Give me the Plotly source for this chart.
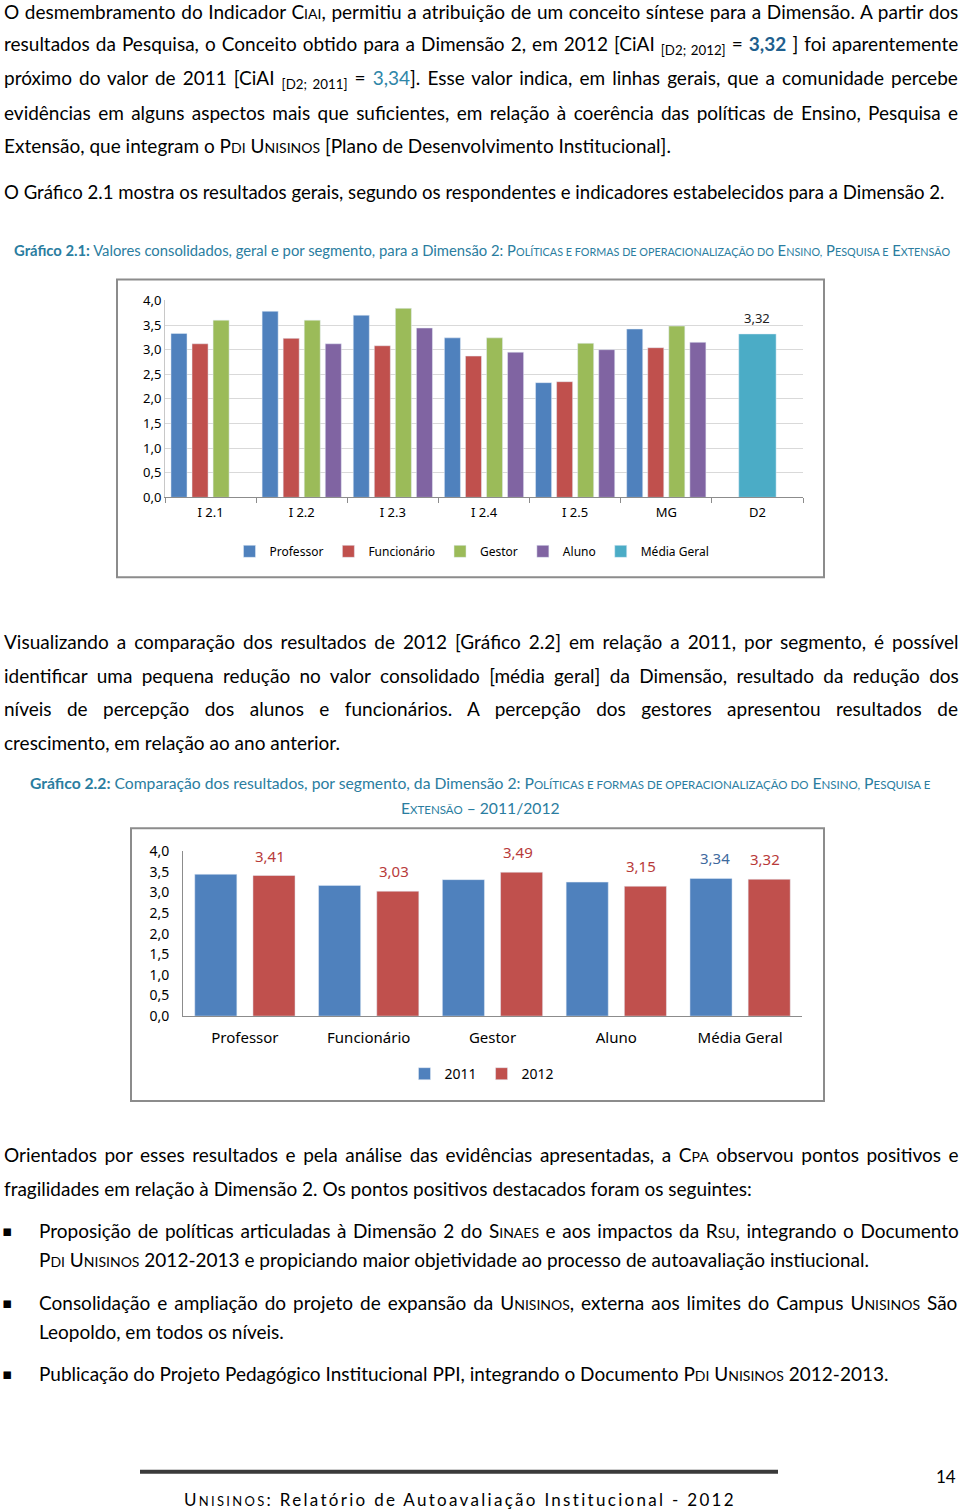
import plotly.graph_objects as go

W, H = 960, 1521
TOP = 8.5     # page offset compensation (px)
VSCALE = 0.988  # vertical compensation of the photographed page

# ---------------- data ----------------
indicadores = ["I 2.1", "I 2.2", "I 2.3", "I 2.4", "I 2.5", "MG", "D2"]
professor = [3.33, 3.78, 3.70, 3.24, 2.33, 3.42, None]
funcionario = [3.12, 3.23, 3.08, 2.87, 2.35, 3.04, None]
gestor = [3.60, 3.60, 3.84, 3.24, 3.13, 3.48, None]
aluno = [None, 3.12, 3.44, 2.95, 3.00, 3.15, None]
media_geral = [None, None, None, None, None, None, 3.32]

segmentos = ["Professor", "Funcionário", "Gestor", "Aluno", "Média Geral"]
ano_2011 = [3.44, 3.17, 3.31, 3.25, 3.34]
ano_2012 = [3.41, 3.03, 3.49, 3.15, 3.32]

y_ticks = [0, 0.5, 1.0, 1.5, 2.0, 2.5, 3.0, 3.5, 4.0]
y_ticktext = ["0,0", "0,5", "1,0", "1,5", "2,0", "2,5", "3,0", "3,5", "4,0"]

# ---------------- styles ----------------
BLUE, RED, GREEN, PURPLE, AQUA = "#4F81BD", "#C0504D", "#9BBB59", "#8064A2", "#4BACC6"
TEXT_FONT = "Lato, sans-serif"
CHART_FONT = "Noto Sans, DejaVu Sans, sans-serif"
TEAL = "#2A7DA0"


def px(x):
    return x / W


def py(y):
    return 1 - (y / VSCALE - TOP) / H


def sc(t, size):
    return f'<span style="font-size:{size}px">{t.upper()}</span>'


def fmt(v):
    return f"{v:.2f}".replace(".", ",")


fig = go.Figure()

# ---------------- chart 2.1 ----------------
c1_series = [("Professor", professor, BLUE), ("Funcionário", funcionario, RED),
             ("Gestor", gestor, GREEN), ("Aluno", aluno, PURPLE)]
step, bw = 0.231, 0.176
for i, (name, vals, col) in enumerate(c1_series):
    fig.add_trace(go.Bar(x=indicadores, y=vals, name=name, marker_color=col,
                         width=bw, offset=-2 * step + i * step + (step - bw) / 2,
                         xaxis="x", yaxis="y", legend="legend"))
fig.add_trace(go.Bar(x=indicadores, y=media_geral, name="Média Geral", marker_color=AQUA,
                     width=0.41, offset=-0.205, xaxis="x", yaxis="y", legend="legend"))

# ---------------- chart 2.2 ----------------
fig.add_trace(go.Bar(x=segmentos, y=ano_2011, name="2011", marker_color=BLUE,
                     xaxis="x2", yaxis="y2", legend="legend2", offset=-0.405, width=0.34))
fig.add_trace(go.Bar(x=segmentos, y=ano_2012, name="2012", marker_color=RED,
                     xaxis="x2", yaxis="y2", legend="legend2", offset=0.065, width=0.34))

annotations = []
# data label chart 2.1
for c, v in zip(indicadores, media_geral):
    if v is not None:
        annotations.append(dict(x=c, y=v, xref="x", yref="y", text=fmt(v), showarrow=False,
                                yshift=16, yanchor="middle",
                                font=dict(size=13, color="#222222", family=CHART_FONT)))
# data labels chart 2.2 (2012 all, 2011 only Média Geral)
for s, v in zip(segmentos, ano_2012):
    annotations.append(dict(x=s, y=v, xref="x2", yref="y2", text=fmt(v),
                            showarrow=False, xshift=25, yshift=20, yanchor="middle",
                            font=dict(size=15, color="#B83A3A", family=CHART_FONT)))
annotations.append(dict(x=segmentos[-1], y=ano_2011[-1], xref="x2", yref="y2",
                        text=fmt(ano_2011[-1]), showarrow=False,
                        xshift=-25, yshift=20, yanchor="middle",
                        font=dict(size=15, color="#3F6A9E", family=CHART_FONT)))

# ---------------- page text ----------------
FS = 19
SCS = 14
# (y, x, word spacing px for justified lines, font size, text)
lines = [
    (10, 2, 0.8, FS, f"O desmembramento do Indicador C{sc('iai', SCS)}, permitiu a atribuição de um conceito síntese para a Dimensão. A partir dos"),
    (43, 2, 1.2, FS, f"resultados da Pesquisa, o Conceito obtido para a Dimensão 2, em 2012 [CiAI <sub>[D2; 2012]</sub> = <b><span style='color:#1F5F8E'>3,32</span></b> ] foi aparentemente"),
    (77, 2, 2.2, FS, f"próximo do valor de 2011 [CiAI <sub>[D2; 2011]</sub> = <span style='color:#2F86A8'>3,34</span>]. Esse valor indica, em linhas gerais, que a comunidade percebe"),
    (111, 2, 2.5, FS, "evidências em alguns aspectos mais que suficientes, em relação à coerência das políticas de Ensino, Pesquisa e"),
    (144, 2, 0, FS, f"Extensão, que integram o P{sc('di', SCS)} U{sc('nisinos', SCS)} [Plano de Desenvolvimento Institucional]."),
    (190, 2, 0, 18.6, "O Gráfico 2.1 mostra os resultados gerais, segundo os respondentes e indicadores estabelecidos para a Dimensão 2."),
    (640, 2, 3.1, FS, "Visualizando a comparação dos resultados de 2012 [Gráfico 2.2] em relação a 2011, por segmento, é possível"),
    (674, 2, 4.5, FS, "identificar uma pequena redução no valor consolidado [média geral] da Dimensão, resultado da redução dos"),
    (707, 2, 10.6, FS, "níveis de percepção dos alunos e funcionários. A percepção dos gestores apresentou resultados de"),
    (741, 2, 0, FS, "crescimento, em relação ao ano anterior."),
    (1153, 2, 2.7, FS, f"Orientados por esses resultados e pela análise das evidências apresentadas, a C{sc('pa', SCS)} observou pontos positivos e"),
    (1187, 2, 0, FS, "fragilidades em relação à Dimensão 2. Os pontos positivos destacados foram os seguintes:"),
    (1230, 37, 1.75, FS, f"Proposição de políticas articuladas à Dimensão 2 do S{sc('inaes', SCS)} e aos impactos da R{sc('su', SCS)}, integrando o Documento"),
    (1259, 37, 0, FS, f"P{sc('di', SCS)} U{sc('nisinos', SCS)} 2012-2013 e propiciando maior objetividade ao processo de autoavaliação instiucional."),
    (1302, 37, 2.1, FS, f"Consolidação e ampliação do projeto de expansão da U{sc('nisinos', SCS)}, externa aos limites do Campus U{sc('nisinos', SCS)} São"),
    (1331, 37, 0, FS, "Leopoldo, em todos os níveis."),
    (1373, 37, 0, FS, f"Publicação do Projeto Pedagógico Institucional PPI, integrando o Documento P{sc('di', SCS)} U{sc('nisinos', SCS)} 2012-2013."),
]
for yy, xx, ws, fs, txt in lines:
    if ws:
        txt = f"<span style='word-spacing:{ws}px'>{txt}</span>"
    annotations.append(dict(x=px(xx), y=py(yy), xref="paper", yref="paper", text=txt,
                            showarrow=False, xanchor="left", yanchor="middle",
                            font=dict(size=fs, color="#000000", family=TEXT_FONT)))

for yy in (1230, 1302, 1373):
    annotations.append(dict(x=px(7), y=py(yy), xref="paper", yref="paper", text="▪",
                            showarrow=False, xanchor="center", yanchor="middle",
                            font=dict(size=15, color="#000000", family="DejaVu Sans")))

captions = [
    (249, 12, "left", 14.8, 10.8,
     "<b>Gráfico 2.1:</b> Valores consolidados, geral e por segmento, para a Dimensão 2: "
     "P{a} E{b} P{c} E{d}"),
    (782, 480, "center", 15.7, 11.5,
     "<b>Gráfico 2.2:</b> Comparação dos resultados, por segmento, da Dimensão 2: "
     "P{a} E{b} P{c}"),
    (807, 480, "center", 15.7, 11.5, "E{d} – 2011/2012"),
]
for yy, xx, anc, cs, css, tpl in captions:
    txt = tpl.format(a=sc('olíticas e formas de operacionalização do', css), b=sc('nsino,', css),
                     c=sc('esquisa e', css), d=sc('xtensão', css))
    annotations.append(dict(x=px(xx), y=py(yy), xref="paper", yref="paper", text=txt,
                            showarrow=False, xanchor=anc, yanchor="middle",
                            font=dict(size=cs, color=TEAL, family=TEXT_FONT)))

# footer
annotations.append(dict(x=px(958), y=py(1476), xref="paper", yref="paper", text="14",
                        showarrow=False, xanchor="right", yanchor="middle",
                        font=dict(size=17, color="#000000", family=TEXT_FONT)))
annotations.append(dict(x=px(460), y=py(1499), xref="paper", yref="paper",
                        text=f"<span style='letter-spacing:2.3px'>U{sc('nisinos', 13)}: Relatório de Autoavaliação Institucional - 2012</span>",
                        showarrow=False, xanchor="center", yanchor="middle",
                        font=dict(size=17, color="#000000", family=TEXT_FONT)))

shapes = [
    dict(type="rect", xref="paper", yref="paper", x0=px(117), x1=px(824), y0=py(278), y1=py(576),
         line=dict(color="#8C8C8C", width=2), fillcolor="rgba(0,0,0,0)", layer="below"),
    dict(type="rect", xref="paper", yref="paper", x0=px(131), x1=px(824), y0=py(827), y1=py(1100),
         line=dict(color="#8C8C8C", width=2), fillcolor="rgba(0,0,0,0)", layer="below"),
    dict(type="line", xref="paper", yref="paper", x0=px(140), x1=px(778), y0=py(1471), y1=py(1471),
         line=dict(color="#3A3A3A", width=4)),
]

fig.update_layout(
    width=W, height=H, autosize=False,
    margin=dict(l=0, r=0, t=0, b=0),
    paper_bgcolor="white", plot_bgcolor="white",
    barmode="overlay",
    annotations=annotations, shapes=shapes,
    font=dict(family=CHART_FONT, color="#000000"),
    xaxis=dict(domain=[px(165), px(803)], anchor="y", type="category",
               showline=True, linecolor="#8C8C8C", linewidth=1,
               ticks="outside", tickson="boundaries", ticklen=5, tickcolor="#8C8C8C",
               tickfont=dict(size=13, family=CHART_FONT), ticklabelstandoff=3),
    yaxis=dict(domain=[py(496), py(299)], anchor="x", range=[0, 4],
               tickvals=y_ticks, ticktext=y_ticktext, showgrid=True, gridcolor="#D9D9D9",
               showline=True, linecolor="#C8C8C8", linewidth=1, zeroline=False,
               tickfont=dict(size=13, family=CHART_FONT)),
    xaxis2=dict(domain=[px(183), px(802)], anchor="y2", type="category",
                showline=True, linecolor="#8C8C8C", linewidth=1, ticks="",
                tickfont=dict(size=15, family=CHART_FONT), ticklabelstandoff=8),
    yaxis2=dict(domain=[py(1015), py(850)], anchor="x2", range=[0, 4],
                tickvals=y_ticks, ticktext=y_ticktext, showgrid=False,
                showline=True, linecolor="#8C8C8C", linewidth=1, zeroline=False,
                tickfont=dict(size=14, family=CHART_FONT), ticklabelstandoff=10),
    legend=dict(orientation="h", x=px(472), y=py(550), xanchor="center", yanchor="middle",
                font=dict(size=12, family=CHART_FONT), itemwidth=30, bgcolor="rgba(0,0,0,0)"),
    legend2=dict(orientation="h", x=px(482), y=py(1073), xanchor="center", yanchor="middle",
                 font=dict(size=14, family=CHART_FONT), itemwidth=30, bgcolor="rgba(0,0,0,0)"),
)

fig.write_html("out.html", config={"displayModeBar": False},
               post_script="document.body.style.margin='0';")
